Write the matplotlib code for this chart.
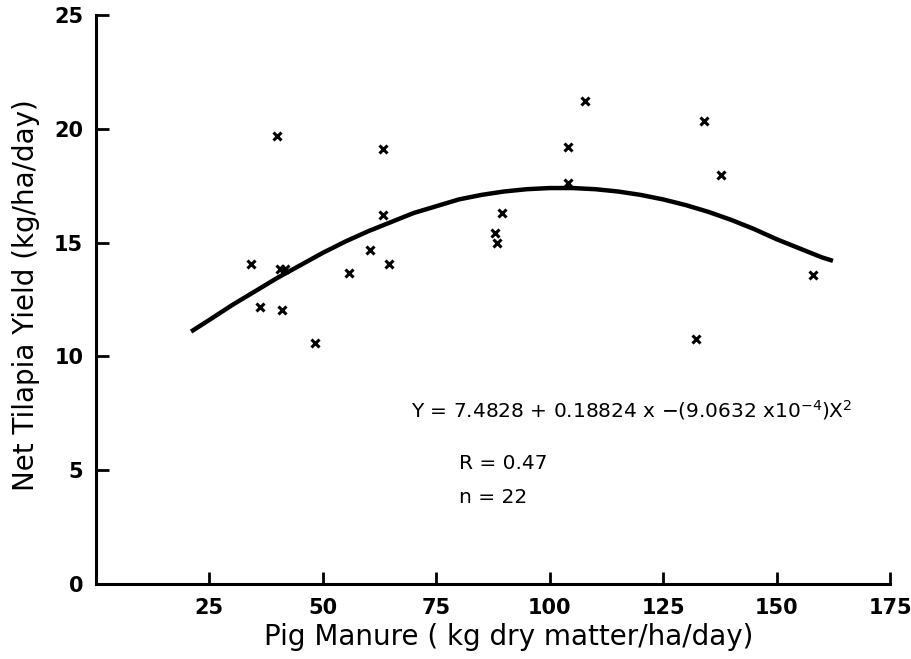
import matplotlib
matplotlib.use("Agg")
import matplotlib.pyplot as plt

# observed points (kg dry matter/ha/day, kg/ha/day)
manure = [34.3, 36.1, 40.0, 40.5, 41.6, 41.0, 48.2, 55.9, 60.5, 63.2, 63.2,
          64.7, 88.0, 88.3, 89.6, 104.0, 104.0, 107.8, 132.2, 133.9, 137.8, 158.1]
tilapia = [14.07, 12.19, 19.69, 13.83, 13.83, 12.04, 10.58, 13.68, 14.68, 19.13, 16.22,
           14.07, 15.42, 14.98, 16.29, 19.2, 17.64, 21.23, 10.76, 20.36, 17.99, 13.58]

# fitted curve
fit_x = [21, 25, 30, 35, 40, 45, 50, 55, 60, 65, 70, 75, 80, 85, 90, 95,
         100, 105, 110, 115, 120, 125, 130, 135, 140, 145, 150, 155, 160, 162.4]
fit_y = [11.09, 11.6, 12.25, 12.85, 13.45, 14.0, 14.55, 15.05, 15.5, 15.9,
         16.3, 16.6, 16.9, 17.1, 17.25, 17.35, 17.4, 17.4, 17.35, 17.25,
         17.1, 16.9, 16.65, 16.35, 16.0, 15.6, 15.15, 14.75, 14.35, 14.2]

x_ticks = [25, 50, 75, 100, 125, 150, 175]
y_ticks = [0, 5, 10, 15, 20, 25]

fig = plt.figure(figsize=(9.12, 6.59), dpi=100)
ax = fig.add_axes([0.105, 0.114, 0.871, 0.863])

ax.plot(fit_x, fit_y, color="black", linewidth=3.2, solid_capstyle="butt")
ax.plot(manure, tilapia, linestyle="none", marker="x", color="black",
        markersize=6, markeredgewidth=2.2)

ax.set_xlim(0, 175)
ax.set_ylim(0, 25)
ax.set_xticks(x_ticks)
ax.set_yticks(y_ticks)
ax.tick_params(direction="in", length=9, width=2, labelsize=15)
ax.tick_params(axis="x", pad=10)
ax.tick_params(axis="y", pad=9)
for lab in ax.get_xticklabels() + ax.get_yticklabels():
    lab.set_fontweight("bold")

ax.spines["top"].set_visible(False)
ax.spines["right"].set_visible(False)
ax.spines["left"].set_linewidth(2.2)
ax.spines["bottom"].set_linewidth(2.2)

fig.text(0.558, 0.033, "Pig Manure ( kg dry matter/ha/day)", fontsize=20,
         ha="center", va="center")
fig.text(0.029, 0.552, "Net Tilapia Yield (kg/ha/day)", fontsize=20,
         ha="center", va="center", rotation=90)

ax.text(69.5, 7.65, r"Y = 7.4828 + 0.18824 x $-$(9.0632 x10$^{-4}$)X$^2$",
        fontsize=14.5, va="center", ha="left")
ax.text(80, 5.3, "R = 0.47", fontsize=14.5, va="center", ha="left")
ax.text(80, 3.8, "n = 22", fontsize=14.5, va="center", ha="left")

fig.savefig("out.png", dpi=100)
